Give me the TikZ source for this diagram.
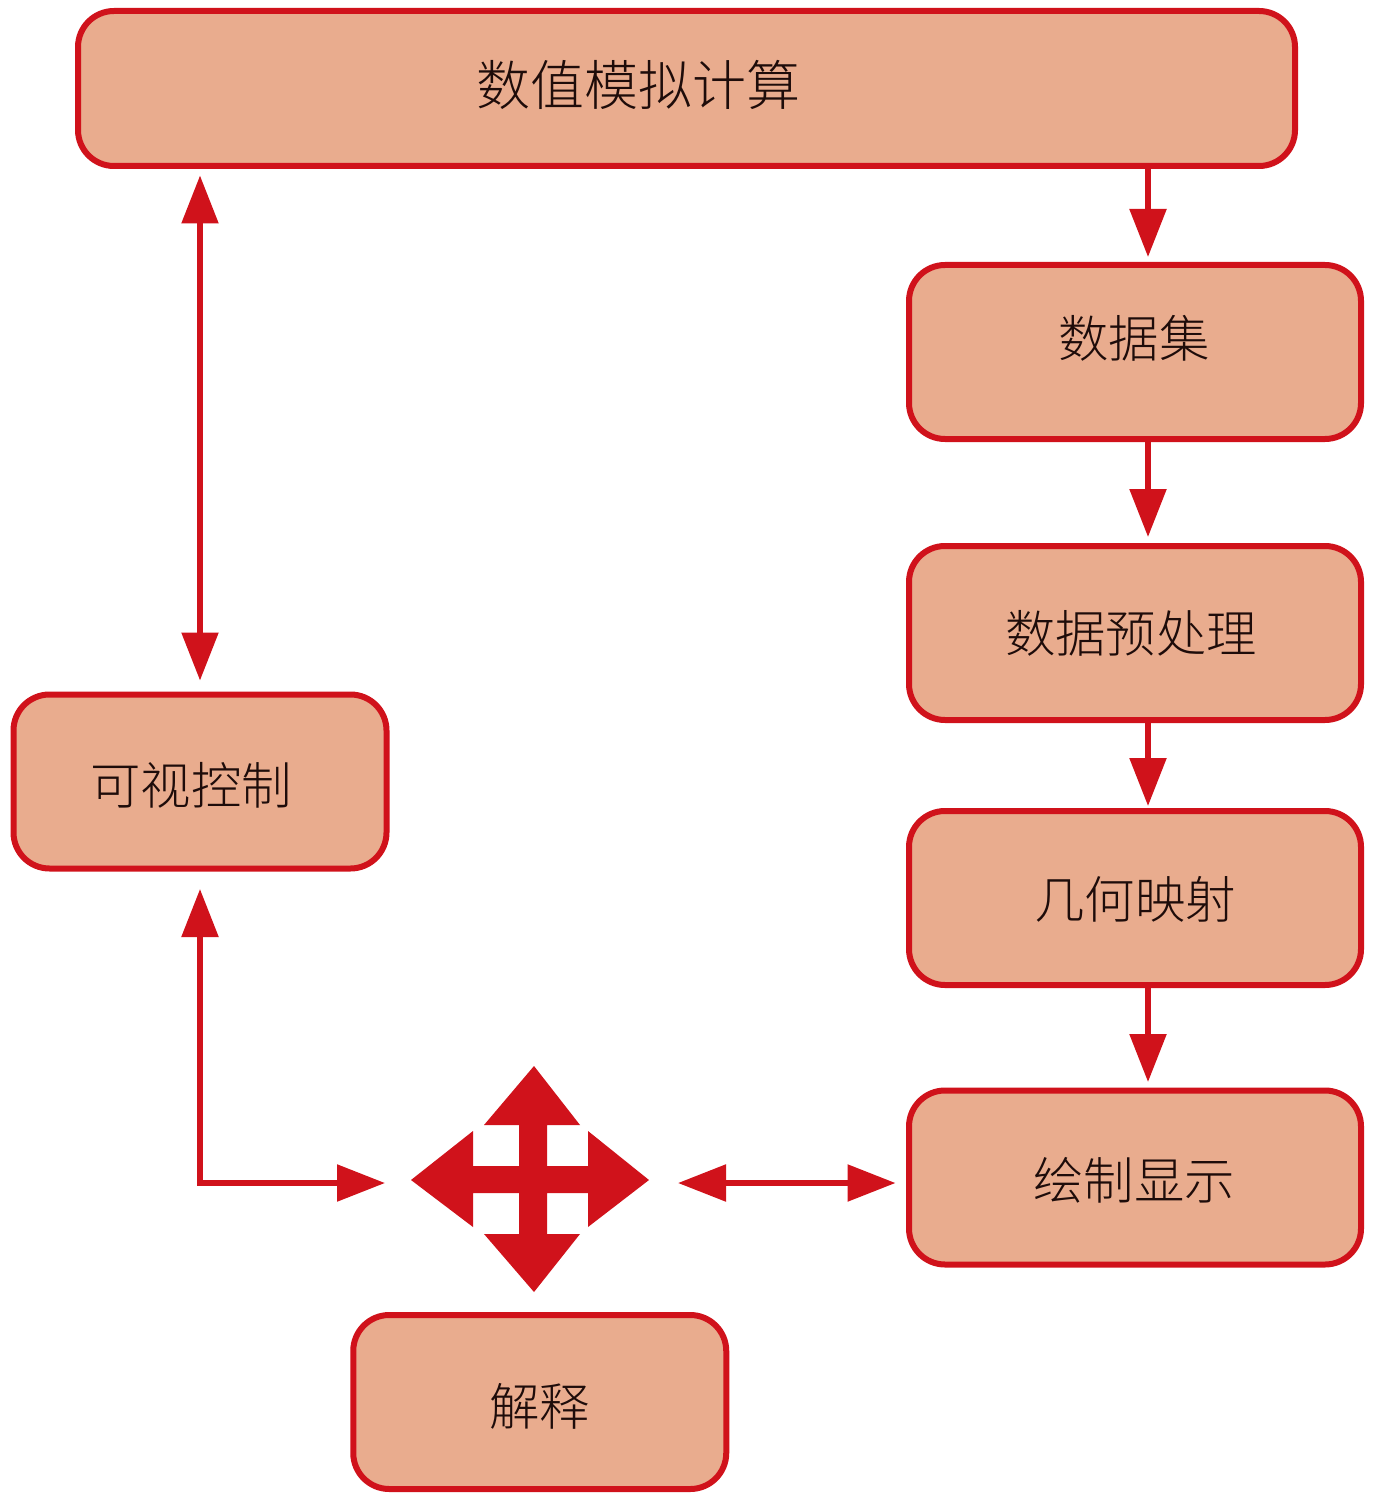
\documentclass[tikz,border=0pt]{standalone}
\usepackage{fontspec}
\setmainfont{Noto Sans CJK SC Light}
\usetikzlibrary{arrows.meta,positioning}
\definecolor{flowred}{RGB}{208,18,27}
\definecolor{boxfill}{RGB}{233,172,142}
\definecolor{boxtext}{RGB}{30,12,10}
\begin{document}
\begin{tikzpicture}[x=0.5pt, y=-0.5pt, >={Triangle[width=18pt,length=24pt]},
  stagebox/.style={draw=flowred, line width=3pt, fill=boxfill, rounded corners=18pt, outer sep=0pt, inner sep=0pt, minimum width=226pt, minimum height=87pt},
  stagetext/.style={text=boxtext, inner sep=0pt, font=\fontsize{25.2}{30}\selectfont},
  flow/.style={draw=flowred, line width=2.75pt}]
\useasboundingbox (0,0) rectangle (1372,1502);
\node[stagebox, minimum width=608.5pt, minimum height=77.5pt] (sim) at (686.5,88.5) {};
\node[stagebox] (data) at (1135,352) {};
\node[stagebox, below=53.5pt of data] (prep) {};
\node[stagebox, below=45.5pt of prep] (geom) {};
\node[stagebox, below=52.75pt of geom] (render) {};
\node[stagebox, minimum width=186.5pt] (control) at (200,781.5) {};
\node[stagebox, minimum width=186.5pt] (explain) at (539.75,1402) {};
\node[stagetext, font=\fontsize{27}{30}\selectfont, xshift=-24.25pt, yshift=1.75pt] (simtext) at (sim) {数值模拟计算};
\node[stagetext, xshift=-0.5pt, yshift=7pt] (datatext) at (data) {数据集};
\node[stagetext, xshift=-2pt] (preptext) at (prep) {数据预处理};
\node[stagetext, yshift=-0.75pt] (geomtext) at (geom) {几何映射};
\node[stagetext, xshift=-0.5pt, yshift=-1.25pt] (rendertext) at (render) {绘制显示};
\node[stagetext, xshift=-4.5pt, yshift=-1.75pt] (controltext) at (control) {可视控制};
\node[stagetext, yshift=-2.25pt] (explaintext) at (explain) {解释};
% move symbol
\node[minimum width=119pt, minimum height=113pt, inner sep=0pt, outer sep=0pt] (move) at (530,1179) {};
\fill[flowred] (534,1066) -- (580,1125) -- (547,1125) -- (547,1166) -- (588,1166) -- (588,1131) -- (649,1180)
  -- (588,1227) -- (588,1193) -- (547,1193) -- (547,1234) -- (580,1234) -- (534,1292) -- (484,1234) -- (519,1234)
  -- (519,1193) -- (473,1193) -- (473,1227) -- (411,1180) -- (473,1131) -- (473,1166) -- (519,1166) -- (519,1125)
  -- (484,1125) -- cycle;
\coordinate (railr) at (1148,0);
\coordinate (raill) at (200,0);
\coordinate (link) at (0,1183);
\draw[flow, ->, shorten >=4pt] (sim.south -| railr) -- (data.north -| railr);
\draw[flow, ->, shorten >=4.5pt] (data.south -| railr) -- (prep.north -| railr);
\draw[flow, ->, shorten >=2.5pt] (prep.south -| railr) -- (geom.north -| railr);
\draw[flow, ->, shorten >=4.25pt] (geom.south -| railr) -- (render.north -| railr);
\draw[flow, <->, shorten <=4.75pt, shorten >=7pt] (sim.south -| raill) -- (control.north -| raill);
\draw[flow, <->, shorten <=10.25pt, shorten >=13pt] (control.south -| raill) |- (move.west |- link);
\draw[flow, <->, shorten <=14.5pt, shorten >=6.75pt] (move.east |- link) -- (render.west |- link);
\end{tikzpicture}
\end{document}
